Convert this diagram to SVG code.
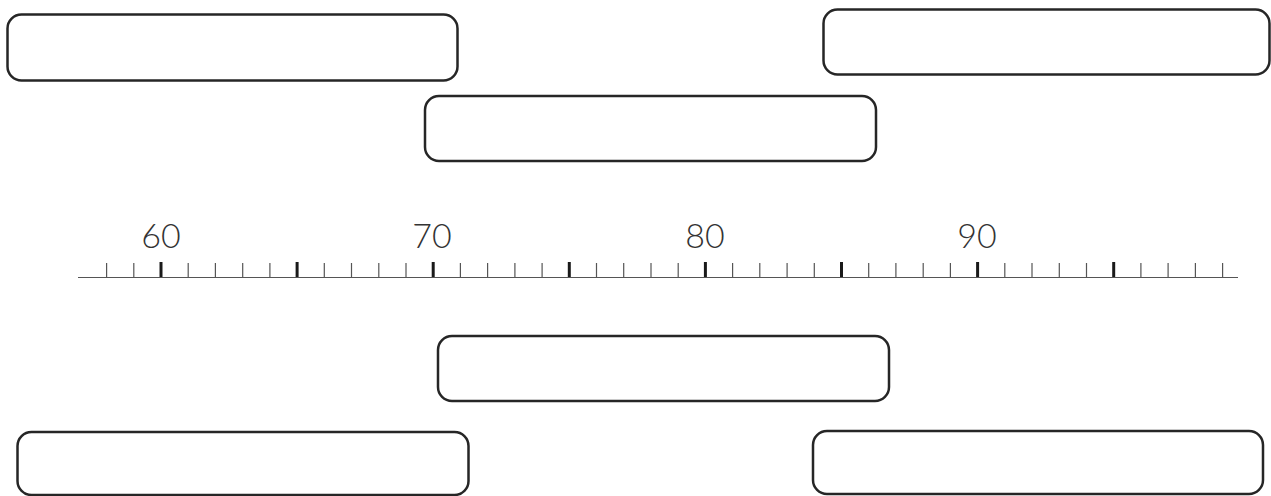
<svg xmlns="http://www.w3.org/2000/svg" width="1271" height="496" viewBox="0 0 1271 496">
<style>
.box{fill:#fff;stroke:#262626;stroke-width:2.5}
.minor{stroke:#555;stroke-width:1.2}
.major{stroke:#1a1a1a;stroke-width:3}
.axis{stroke:#555;stroke-width:1.2}
.lbl{font-family:Lato,"Open Sans",sans-serif;font-weight:300;font-size:34px;fill:#333;text-anchor:middle}
</style>
<rect width="1271" height="496" fill="#fff"/>
<g id="node1"><rect class="box" x="7.5" y="14.5" width="450" height="66" rx="14"/></g>
<g id="node2"><rect class="box" x="823.5" y="9.5" width="446" height="65" rx="14"/></g>
<g id="node3"><rect class="box" x="425" y="96" width="451" height="65" rx="14"/></g>
<g id="node4"><rect class="box" x="438" y="336" width="451" height="65" rx="14"/></g>
<g id="node5"><rect class="box" x="17.5" y="432" width="451" height="63" rx="14"/></g>
<g id="node6"><rect class="box" x="813" y="431" width="450" height="63" rx="14"/></g>
<g id="timeline">
<line class="axis" x1="78" y1="277.5" x2="1238" y2="277.5"/>
<g id="ticks">
<line class="minor" x1="106.6" y1="263" x2="106.6" y2="277"/>
<line class="minor" x1="133.8" y1="263" x2="133.8" y2="277"/>
<line class="major" x1="161" y1="262" x2="161" y2="277"/>
<line class="minor" x1="188.2" y1="263" x2="188.2" y2="277"/>
<line class="minor" x1="215.4" y1="263" x2="215.4" y2="277"/>
<line class="minor" x1="242.7" y1="263" x2="242.7" y2="277"/>
<line class="minor" x1="269.9" y1="263" x2="269.9" y2="277"/>
<line class="major" x1="297.1" y1="262" x2="297.1" y2="277"/>
<line class="minor" x1="324.3" y1="263" x2="324.3" y2="277"/>
<line class="minor" x1="351.5" y1="263" x2="351.5" y2="277"/>
<line class="minor" x1="378.8" y1="263" x2="378.8" y2="277"/>
<line class="minor" x1="406" y1="263" x2="406" y2="277"/>
<line class="major" x1="433.2" y1="262" x2="433.2" y2="277"/>
<line class="minor" x1="460.4" y1="263" x2="460.4" y2="277"/>
<line class="minor" x1="487.6" y1="263" x2="487.6" y2="277"/>
<line class="minor" x1="514.9" y1="263" x2="514.9" y2="277"/>
<line class="minor" x1="542.1" y1="263" x2="542.1" y2="277"/>
<line class="major" x1="569.3" y1="262" x2="569.3" y2="277"/>
<line class="minor" x1="596.5" y1="263" x2="596.5" y2="277"/>
<line class="minor" x1="623.7" y1="263" x2="623.7" y2="277"/>
<line class="minor" x1="651" y1="263" x2="651" y2="277"/>
<line class="minor" x1="678.2" y1="263" x2="678.2" y2="277"/>
<line class="major" x1="705.4" y1="262" x2="705.4" y2="277"/>
<line class="minor" x1="732.6" y1="263" x2="732.6" y2="277"/>
<line class="minor" x1="759.8" y1="263" x2="759.8" y2="277"/>
<line class="minor" x1="787.1" y1="263" x2="787.1" y2="277"/>
<line class="minor" x1="814.3" y1="263" x2="814.3" y2="277"/>
<line class="major" x1="841.5" y1="262" x2="841.5" y2="277"/>
<line class="minor" x1="868.7" y1="263" x2="868.7" y2="277"/>
<line class="minor" x1="895.9" y1="263" x2="895.9" y2="277"/>
<line class="minor" x1="923.2" y1="263" x2="923.2" y2="277"/>
<line class="minor" x1="950.4" y1="263" x2="950.4" y2="277"/>
<line class="major" x1="977.6" y1="262" x2="977.6" y2="277"/>
<line class="minor" x1="1004.8" y1="263" x2="1004.8" y2="277"/>
<line class="minor" x1="1032" y1="263" x2="1032" y2="277"/>
<line class="minor" x1="1059.3" y1="263" x2="1059.3" y2="277"/>
<line class="minor" x1="1086.5" y1="263" x2="1086.5" y2="277"/>
<line class="major" x1="1113.7" y1="262" x2="1113.7" y2="277"/>
<line class="minor" x1="1140.9" y1="263" x2="1140.9" y2="277"/>
<line class="minor" x1="1168.1" y1="263" x2="1168.1" y2="277"/>
<line class="minor" x1="1195.4" y1="263" x2="1195.4" y2="277"/>
<line class="minor" x1="1222.6" y1="263" x2="1222.6" y2="277"/>
</g>
<g id="labels">
<text class="lbl" x="161" y="248">60</text>
<text class="lbl" x="432" y="248">70</text>
<text class="lbl" x="705" y="248">80</text>
<text class="lbl" x="977" y="248">90</text>
</g>
</g>
<g id="connectors"></g>
</svg>
